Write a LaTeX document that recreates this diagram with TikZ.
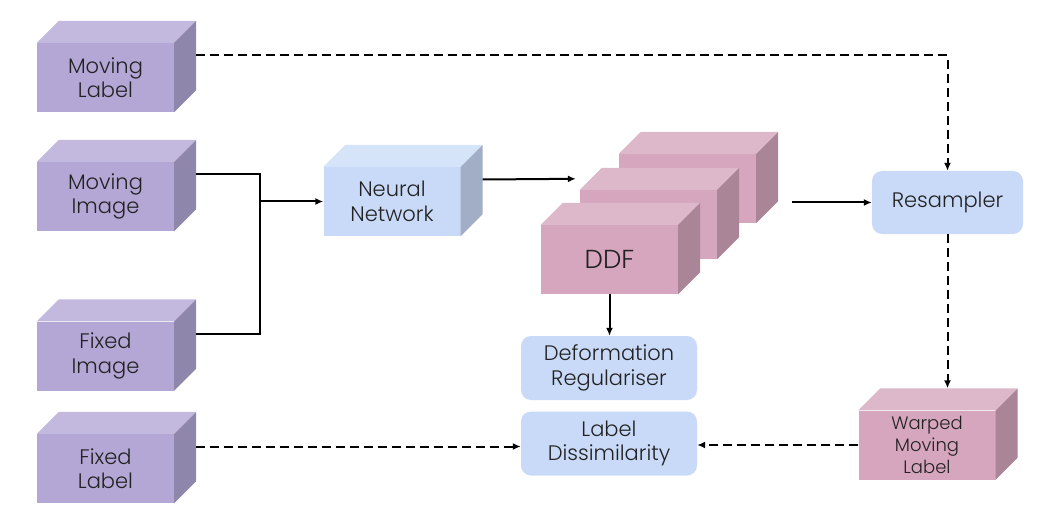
\documentclass[tikz,border=0pt]{standalone}
\usepackage{fontspec}
\setmainfont{Poppins}[UprightFont=* Light]
\usetikzlibrary{arrows.meta,positioning}

\definecolor{purpfront}{HTML}{B4A7D6}
\definecolor{purptop}{HTML}{C3B9DF}
\definecolor{purpside}{HTML}{8F86AB}
\definecolor{bluefront}{HTML}{C9DAF8}
\definecolor{bluetop}{HTML}{D6E4FA}
\definecolor{blueside}{HTML}{A1AEC6}
\definecolor{pinkfront}{HTML}{D5A6BD}
\definecolor{pinktop}{HTML}{DDB8CA}
\definecolor{pinkside}{HTML}{AA8597}
\definecolor{textgray}{HTML}{222222}

% top and side faces of a box node, plus the middle of its side face
\newcommand{\blockfaces}[2]{%
  \fill[#2top] (#1.north west) -- ++(22,-22) -- ([shift={(22,-22)}]#1.north east) -- (#1.north east) -- cycle;
  \fill[#2side] (#1.north east) -- ++(22,-22) -- ([shift={(22,-22)}]#1.south east) -- (#1.south east) -- cycle;
  \coordinate (#1side) at ([shift={(22,-22)}]#1.east);}

\begin{document}
\begin{tikzpicture}
 [x=1pt,y=-1pt,
 block/.style={
  rectangle,
  fill=#1front,
  minimum width=137,
  minimum height=69,
  inner sep=0pt,
  align=center,
  text=textgray,
  font=\fontsize{21}{24.5}\selectfont},
 roundbox/.style={
  rectangle,
  rounded corners=10pt,
  fill=bluefront,
  minimum width=176,
  minimum height=64,
  inner sep=0pt,
  align=center,
  text=textgray,
  font=\fontsize{21}{24.5}\selectfont},
 tip/.style={-{Latex[length=8pt,width=7pt]},line width=2pt},
 dashline/.style={tip,dash pattern=on 9pt off 5pt}]
\useasboundingbox (0,0) rectangle (1056,529);
\node (mlabel) [block=purp] at (105.5,77.5) {Moving\\Label};
\blockfaces{mlabel}{purp}
\node (mimage) [block=purp] at (105.5,196.5) {Moving\\Image};
\blockfaces{mimage}{purp}
\node (fimage) [block=purp] at (105.5,356) {Fixed\\Image};
\blockfaces{fimage}{purp}
\node (flabel) [block=purp] at (105.5,468.5) {Fixed\\Label};
\blockfaces{flabel}{purp}
\node (network) [block=blue] at (392,201.5) {Neural\\Network};
\blockfaces{network}{blue}
\node (ddfback) [block=pink] at (687.5,188.5) {};
\blockfaces{ddfback}{pink}
\node (ddfmid) [block=pink] at (648.5,224.5) {};
\blockfaces{ddfmid}{pink}
\node (ddf) [block=pink, font=\fontsize{26}{30}\selectfont] at (609.5,259.5) {DDF};
\blockfaces{ddf}{pink}
\node (warped) [block=pink, font=\fontsize{18}{22}\selectfont] at (927,445) {Warped\\Moving\\Label};
\blockfaces{warped}{pink}
\node (resampler) [roundbox, minimum width=151, minimum height=63] at (947.5,202.5) {Resampler};
\node (deform) [roundbox] at (609,368) {Deformation\\Regulariser};
\node (labeldis) [roundbox] at (609,443.5) {Label\\Dissimilarity};
\coordinate (join) at (260,201.5);
\draw[line width=2pt] (mimageside) -| (join) |- (fimageside);
\draw[tip] (join) -- (network.west);
\draw[tip] (networkside) -- ([shift={(-4,-11)}]ddfmid.north west);
\draw[tip, shorten <=53pt] (ddfmidside) -- (resampler.west);
\draw[tip] (ddf.south) -- (ddf.south |- deform.north);
\draw[dashline] (mlabelside) -| (resampler.north);
\draw[dashline] (resampler.south) -- ([yshift=22pt]resampler.south |- warped.north);
\draw[dashline] (warped.west) -- (warped.west -| labeldis.east);
\draw[dashline] (flabelside) -- (flabelside -| labeldis.west);
\end{tikzpicture}
\end{document}
